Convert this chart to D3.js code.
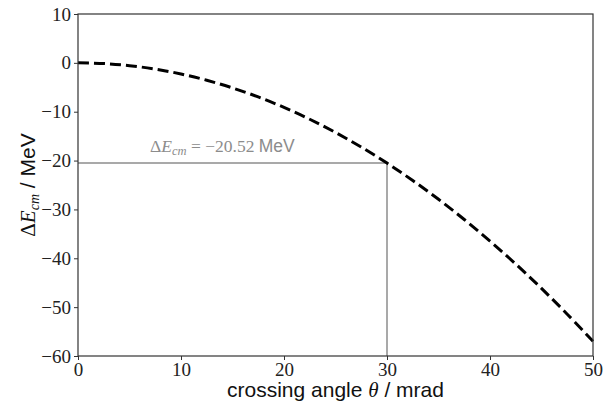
<!DOCTYPE html>
<html><head><meta charset="utf-8">
<script src="https://cdn.jsdelivr.net/npm/d3@7"></script>
<style>body{margin:0;background:#fff}
.tick text{font-family:'Liberation Serif','DejaVu Serif',serif !important;}
</style>
</head><body>
<svg id="c" width="604" height="404"></svg>
<script>
const theta = [0,2.5,5,7.5,10,12.5,15,17.5,20,22.5,25,27.5,30,32.5,35,37.5,40,42.5,45,47.5,50];
const deltaE = [0,-0.14,-0.57,-1.28,-2.28,-3.56,-5.13,-6.98,-9.12,-11.54,-14.25,-17.24,-20.52,-24.08,-27.93,-32.06,-36.48,-41.18,-46.17,-51.44,-57.0];
const xTicks = [0,10,20,30,40,50];
const yTicks = [10,0,-10,-20,-30,-40,-50,-60];
const markTheta = 30, markE = -20.52;

const svg = d3.select("#c");
const m = {l:78,r:593,t:14,b:356};
const x = d3.scaleLinear().domain([0,50]).range([m.l,m.r]);
const y = d3.scaleLinear().domain([-60,10]).range([m.b,m.t]);
const serif = "'Liberation Serif', 'DejaVu Serif', serif";
const sans = "'Liberation Sans', Arial, sans-serif";
const fmt = d => d<0 ? "\u2212"+Math.abs(d) : String(d);

// annotation lines
svg.append("line").attr("x1",x(0)).attr("x2",x(markTheta)).attr("y1",y(markE)).attr("y2",y(markE))
  .attr("stroke","#8c8c8c").attr("stroke-width",1.5);
svg.append("line").attr("x1",x(markTheta)).attr("x2",x(markTheta)).attr("y1",y(-60)).attr("y2",y(markE))
  .attr("stroke","#8c8c8c").attr("stroke-width",1.5);

// curve
svg.append("path").datum(theta.map((t,i)=>[t,deltaE[i]]))
  .attr("d",d3.line().x(d=>x(d[0])).y(d=>y(d[1])).curve(d3.curveCatmullRom))
  .attr("fill","none").attr("stroke","#000").attr("stroke-width",3).attr("stroke-dasharray","11,5");

// frame
svg.append("rect").attr("x",m.l).attr("y",m.t).attr("width",m.r-m.l).attr("height",m.b-m.t)
  .attr("fill","none").attr("stroke","#333").attr("stroke-width",1.2);

// axes
const xa = svg.append("g").attr("transform",`translate(0,${m.b})`)
  .call(d3.axisBottom(x).tickValues(xTicks).tickFormat(fmt).tickSize(4).tickPadding(2));
const ya = svg.append("g").attr("transform",`translate(${m.l},0)`)
  .call(d3.axisLeft(y).tickValues(yTicks).tickFormat(fmt).tickSize(4).tickPadding(3));
[xa,ya].forEach(a=>{
  a.attr("font-family",serif).attr("font-size",19);
  a.select(".domain").remove();
  a.selectAll("line").attr("stroke","#333").attr("stroke-width",1);
  a.selectAll("text").style("font-family",serif).style("font-size","19px").attr("fill","#222");
});
xa.selectAll("text").attr("y",20).attr("dy",0);

// annotation text
const at = svg.append("text").attr("x",150).attr("y",152).attr("fill","#8c8c8c").attr("font-size",17.5);
at.append("tspan").attr("font-family",serif).text("\u0394");
at.append("tspan").attr("font-family",serif).attr("font-style","italic").text("E");
at.append("tspan").attr("font-family",serif).attr("font-style","italic").attr("font-size",12.5).attr("dy",3).text("cm");
at.append("tspan").attr("font-family",serif).attr("dy",-3).text(" = \u221220.52 ");
at.append("tspan").attr("font-family",sans).text("MeV");

// x label
const xl = svg.append("text").attr("x",(m.l+m.r)/2).attr("y",397).attr("text-anchor","middle")
  .attr("font-family",sans).attr("font-size",21).attr("fill","#111");
xl.append("tspan").text("crossing angle ");
xl.append("tspan").attr("font-family",serif).attr("font-style","italic").text("\u03b8");
xl.append("tspan").text(" / mrad");

// y label
const yl = svg.append("text").attr("transform",`translate(35,${(m.t+m.b)/2}) rotate(-90)`).attr("text-anchor","middle")
  .attr("font-family",sans).attr("font-size",21).attr("fill","#111");
yl.append("tspan").attr("font-family",serif).text("\u0394");
yl.append("tspan").attr("font-family",serif).attr("font-style","italic").text("E");
yl.append("tspan").attr("font-family",serif).attr("font-style","italic").attr("font-size",14).attr("dy",4).text("cm");
yl.append("tspan").attr("dy",-4).text(" / MeV");
</script>
</body></html>
